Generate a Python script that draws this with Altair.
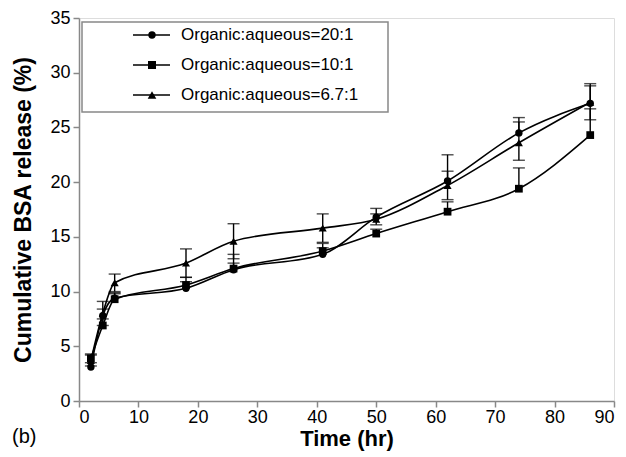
import altair as alt
import pandas as pd

times = [2, 4, 6, 18, 26, 41, 50, 62, 74, 86]
series = ["Organic:aqueous=20:1", "Organic:aqueous=10:1", "Organic:aqueous=6.7:1"]
v_20 = [3.1, 7.8, 9.4, 10.3, 12.0, 13.4, 16.8, 20.1, 24.5, 27.2]
ep_20 = [0.4, 0.6, 0.5, 0.6, 0.6, 0.6, 0.8, 2.4, 1.4, 1.8]
em_20 = [0, 0, 0, 0, 0, 0, 0, 0, 0, 0]
v_10 = [3.9, 6.9, 9.3, 10.6, 12.1, 13.7, 15.3, 17.3, 19.4, 24.3]
ep_10 = [0.4, 0.6, 0.5, 0.7, 1.3, 0.7, 0.4, 0.9, 1.9, 2.4]
em_10 = [0, 0, 0, 0, 0, 0, 0, 0, 0, 0]
v_67 = [3.7, 8.0, 10.8, 12.6, 14.6, 15.8, 16.6, 19.7, 23.6, 27.3]
ep_67 = [0.5, 1.1, 0.8, 1.3, 1.6, 1.3, 0.5, 1.3, 1.9, 1.5]
em_67 = [0.5, 1.1, 0.8, 1.3, 1.6, 1.3, 0.5, 1.3, 1.6, 1.6]
shapes = ["circle", "square", "triangle-up"]
sizes = [55, 65, 75]

rows = []
for s, vals, eps, ems in zip(series, [v_20, v_10, v_67], [ep_20, ep_10, ep_67], [em_20, em_10, em_67]):
    for t, v, ep, em in zip(times, vals, eps, ems):
        rows.append({"series": s, "t": t, "v": v, "lo": v - em, "hi": v + ep, "haslo": em > 0})
df = pd.DataFrame(rows)

FONT = "Liberation Sans"
W, H = 535, 383

xs = alt.X("t:Q", scale=alt.Scale(domain=[0, 90], nice=False),
           axis=alt.Axis(values=list(range(0, 91, 10)), title="Time (hr)",
                         grid=False, tickSize=6, tickColor="#888", domainColor="#888",
                         domainWidth=1.5, tickWidth=1.5,
                         labelFontSize=18, labelColor="black", labelFont=FONT,
                         labelPadding=1, titleFontSize=22, titleFont=FONT,
                         titleFontWeight="bold", titleColor="black", titlePadding=2))
ys = alt.Y("v:Q", scale=alt.Scale(domain=[0, 35], nice=False),
           axis=alt.Axis(values=list(range(0, 36, 5)), title="Cumulative BSA release (%)",
                         grid=False, tickSize=6, tickColor="#888", domainColor="#888",
                         domainWidth=1.5, tickWidth=1.5,
                         labelFontSize=18, labelColor="black", labelFont=FONT,
                         labelPadding=3, titleFontSize=23, titleFont=FONT,
                         titleFontWeight="bold", titleColor="black", titlePadding=14))
shape_scale = alt.Scale(domain=series, range=shapes)

base = alt.Chart(df)
lines = base.mark_line(interpolate="monotone", color="black", strokeWidth=1.6).encode(
    x=xs, y=ys, detail="series:N")
rules = base.mark_rule(color="black", strokeWidth=1.4).encode(x="t:Q", y="lo:Q", y2="hi:Q")
caps_hi = base.mark_tick(color="black", size=12, thickness=1.4, orient="horizontal").encode(x="t:Q", y="hi:Q")
caps_lo = base.transform_filter("datum.haslo").mark_tick(
    color="black", size=12, thickness=1.4, orient="horizontal").encode(x="t:Q", y="lo:Q")
points = base.mark_point(filled=True, color="black", opacity=1).encode(
    x="t:Q", y="v:Q",
    shape=alt.Shape("series:N", scale=shape_scale, legend=None),
    size=alt.Size("series:N", scale=alt.Scale(domain=series, range=sizes), legend=None))

layers = [lines, rules, caps_hi, caps_lo, points]

leg_df = pd.DataFrame({"k": [0]})
lb = alt.Chart(leg_df)
layers.append(lb.mark_rect(fill="white", stroke="#888", strokeWidth=1.5).encode(
    x=alt.value(3), x2=alt.value(309), y=alt.value(4), y2=alt.value(94)))
for i, (s, shp, sz) in enumerate(zip(series, shapes, sizes)):
    yy = 17 + 30 * i
    layers.append(lb.mark_rule(color="black", strokeWidth=1.6).encode(
        x=alt.value(54), x2=alt.value(91), y=alt.value(yy)))
    layers.append(lb.mark_point(filled=True, color="black", opacity=1, shape=shp, size=sz).encode(
        x=alt.value(73), y=alt.value(yy)))
    layers.append(lb.mark_text(text=s, align="left", baseline="middle", font=FONT,
                               fontSize=17, color="black").encode(
        x=alt.value(102), y=alt.value(yy)))
layers.append(lb.mark_text(text="(b)", align="left", baseline="middle", font=FONT,
                           fontSize=20, color="black").encode(
    x=alt.value(-67), y=alt.value(419)))

chart = alt.layer(*layers).properties(
    width=W, height=H,
    autosize=alt.AutoSizeParams(type="none"),
    padding={"left": 79, "top": 18, "right": 12, "bottom": 56},
).configure_view(stroke="#999", strokeWidth=1.5).configure(background="white")

chart.save("out.html", embed_options={"renderer": "svg", "actions": False})
